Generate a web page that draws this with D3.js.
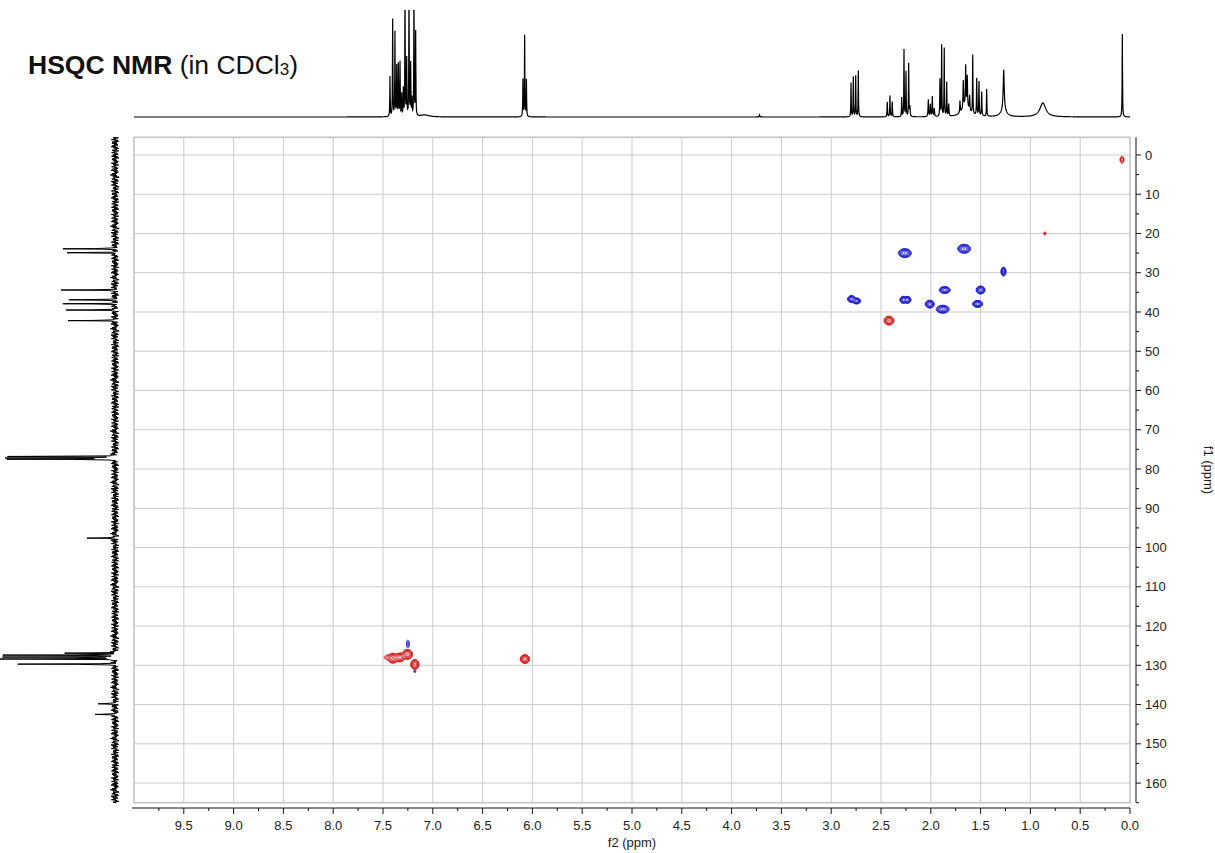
<!DOCTYPE html>
<html>
<head>
<meta charset="utf-8">
<script src="https://cdn.jsdelivr.net/npm/d3@7"></script>
<style>
  html, body { margin: 0; padding: 0; background: #fff; }
  svg { display: block; font-family: "Liberation Sans", Arial, Helvetica, sans-serif; }
</style>
</head>
<body>
<svg id="chart" width="1215" height="853"></svg>
<script>
// ---- 1H projection (f2): peak shift (ppm), height, half-width (ppm)
const protonShift = [7.430, 7.403, 7.380, 7.362, 7.346, 7.329, 7.312, 7.296, 7.279, 7.262, 7.239, 7.222, 7.209, 7.189, 7.172, 7.080,
  6.095, 6.078, 6.060, 3.720,
  2.801, 2.778, 2.754, 2.728,
  2.437, 2.410, 2.387,
  2.292, 2.269, 2.249, 2.222, 2.210,
  2.025, 2.005, 1.985, 1.965,
  1.908, 1.891, 1.865, 1.840, 1.820,
  1.707, 1.674, 1.650, 1.634, 1.610, 1.650,
  1.579, 1.539, 1.516, 1.489, 1.439,
  1.268, 1.268, 0.875, 0.077];
const protonHeight = [40, 97, 84, 50, 52, 54, 22, 27, 125, 57, 125, 52, 17, 125, 84, 2,
  37, 81, 37, 2,
  34, 40, 41, 46,
  15, 21, 15,
  19, 67, 45, 53, 10,
  17, 12, 20, 8,
  37, 71, 68, 34, 12,
  12, 27, 39, 30, 15, 12,
  59, 37, 34, 24, 27,
  40, 7, 14, 83];
const protonWidth = [0.0022, 0.0022, 0.0022, 0.0022, 0.0022, 0.0022, 0.0022, 0.0022, 0.0022, 0.0022, 0.0022, 0.0022, 0.0022, 0.0022, 0.0022, 0.05,
  0.0022, 0.0022, 0.0022, 0.003,
  0.0022, 0.0022, 0.0022, 0.0022,
  0.0025, 0.0025, 0.0025,
  0.0022, 0.0022, 0.0022, 0.0022, 0.0030,
  0.0030, 0.0030, 0.0030, 0.0030,
  0.0022, 0.0022, 0.0022, 0.0022, 0.0030,
  0.0030, 0.0030, 0.0030, 0.0030, 0.0030, 0.040,
  0.0022, 0.0025, 0.0025, 0.0025, 0.0022,
  0.0060, 0.030, 0.035, 0.0022];

// ---- 13C projection (f1): peak shift (ppm), height
const carbonShift = [23.9, 24.9, 34.4, 36.9, 37.9, 39.5, 42.2, 76.8, 77.2, 77.5, 97.6,
  126.9, 127.4, 127.9, 128.4, 129.7, 139.8, 142.5];
const carbonHeight = [52, 45, 54, 46, 52, 49, 47, 106, 107, 106, 28,
  49, 111, 111, 111, 97, 17, 20];
// baseline noise of the 13C trace
const carbonNoise = [2.1, -3.4, 1.2, -0.8, 3.6, -2.9, 0.4, -3.8, 2.7, -1.5, 3.1, -2.2, 0.9, -3.0, 2.4, -0.6,
  3.8, -2.6, 1.7, -3.5, 0.2, -1.9, 2.9, -3.7, 1.4, -0.3, 3.3, -2.4, 0.7, -3.2, 2.2, -1.1,
  3.5, -2.8, 1.0, -3.9, 2.6, -0.9, 3.0, -2.0, 1.6, -3.3, 0.5, -2.7, 3.7, -1.3, 2.0, -3.6,
  1.1, -0.5, 3.4, -2.3, 0.8, -3.1, 2.5, -1.7, 3.9, -2.5, 1.3, -3.4, 0.3, -2.1, 2.8, -1.0, 4.6, -1.8, 2.3, -2.9,
  -4.1, 1.9, -0.2, 3.2, -2.6, 0.6, -3.5, 4.0, -1.4, 2.4, -3.0, 1.5, -0.7, 3.6, -2.2, 0.1, -3.8, 2.0, -1.2];

// ---- HSQC cross peaks: 1H shift, 13C shift, signed amplitude (+ CH/CH3, - CH2), widths (ppm)
const crossH = [2.260, 1.665, 1.270, 1.860, 1.500, 2.795, 2.745, 2.275, 2.235, 2.010, 1.880, 1.530,
  2.420, 0.855, 0.080,
  7.440, 7.400, 7.330, 7.255, 7.180, 6.075, 7.250, 7.180];
const crossC = [25.0, 23.9, 29.7, 34.4, 34.4, 36.7, 37.2, 36.9, 36.9, 38.0, 39.3, 37.95,
  42.2, 20.0, 1.2,
  128.0, 128.2, 128.0, 127.2, 129.8, 128.4, 124.6, 131.5];
const crossAmp = [-30, -30, -20, -25, -25, -25, -25, -25, -25, -25, -30, -25,
  30, 3, 6,
  4, 30, 25, 30, 30, 30, -3, -2.5];
const crossWidthH = [0.025, 0.025, 0.0103, 0.0218, 0.0178, 0.016, 0.016, 0.014, 0.014, 0.0178, 0.025, 0.020,
  0.019, 0.008, 0.0106,
  0.030, 0.020, 0.020, 0.020, 0.016, 0.018, 0.0102, 0.0074];
const crossWidthC = [0.44, 0.44, 0.47, 0.35, 0.40, 0.35, 0.30, 0.35, 0.35, 0.40, 0.39, 0.35,
  0.44, 0.26, 0.47,
  0.38, 0.49, 0.45, 0.49, 0.49, 0.44, 0.69, 0.28];

// ---- axis ticks
const f2Ticks = [9.5, 9.0, 8.5, 8.0, 7.5, 7.0, 6.5, 6.0, 5.5, 5.0, 4.5, 4.0, 3.5, 3.0, 2.5, 2.0, 1.5, 1.0, 0.5, 0.0];
const f2Minor = [9.75, 9.25, 8.75, 8.25, 7.75, 7.25, 6.75, 6.25, 5.75, 5.25, 4.75, 4.25, 3.75, 3.25, 2.75, 2.25, 1.75, 1.25, 0.75, 0.25];
const f1Ticks = [0, 10, 20, 30, 40, 50, 60, 70, 80, 90, 100, 110, 120, 130, 140, 150, 160];
const f1Minor = [5, 15, 25, 35, 45, 55, 65, 75, 85, 95, 105, 115, 125, 135, 145, 155, 165];

// ---------------------------------------------------------------
const svg = d3.select("#chart");
const plot = { left: 134, right: 1130, top: 137.3, bottom: 802.7 };
const x = d3.scaleLinear().domain([10, 0]).range([plot.left, plot.right]);
const y = d3.scaleLinear().domain([-4.5, 165]).range([plot.top, plot.bottom]);

// grid
const grid = svg.append("g").attr("stroke", "#cacaca").attr("stroke-width", 1);
grid.selectAll("line.v").data(f2Ticks.filter(t => t > 0)).join("line")
  .attr("x1", d => x(d)).attr("x2", d => x(d))
  .attr("y1", plot.top).attr("y2", plot.bottom);
grid.selectAll("line.h").data(f1Ticks).join("line")
  .attr("x1", plot.left).attr("x2", plot.right)
  .attr("y1", d => y(d)).attr("y2", d => y(d));
svg.append("rect")
  .attr("x", plot.left).attr("y", plot.top)
  .attr("width", plot.right - plot.left).attr("height", plot.bottom - plot.top)
  .attr("fill", "none").attr("stroke", "#c4c4c4").attr("stroke-width", 1.6);

// ---- 1H projection on top
const yTop = d3.scaleLinear().domain([0, 100]).range([117, 17]);
const lor = (p, c, h, w) => h * w * w / ((p - c) * (p - c) + w * w);
const hSamples = d3.range(0, 4001).map(i => 10 - i * 0.0025).concat(protonShift).sort((a, b) => b - a);
const hTrace = hSamples.map(p => {
  let s = 0;
  for (let i = 0; i < protonShift.length; i++) s += lor(p, protonShift[i], protonHeight[i], protonWidth[i]);
  return [p, s];
});
svg.append("clipPath").attr("id", "topClip")
  .append("rect").attr("x", 0).attr("y", 10).attr("width", 1215).attr("height", 120);
svg.append("path")
  .attr("clip-path", "url(#topClip)")
  .attr("d", d3.line().x(d => x(d[0])).y(d => yTop(d[1]))(hTrace))
  .attr("fill", "none").attr("stroke", "#000").attr("stroke-width", 1.2);

// ---- 13C projection on the left
const xLeft = d3.scaleLinear().domain([0, 100]).range([115, 15]);
const cBase = d3.range(0, 1131).map(i => -4.5 + i * 0.15);
const cSamples = cBase.map((c, i) => ({ c, n: carbonNoise[i % carbonNoise.length] }))
  .concat(carbonShift.map(c => ({ c, n: 0 })))
  .sort((a, b) => a.c - b.c);
const cTrace = cSamples.map(d => {
  let s = d.n;
  for (let i = 0; i < carbonShift.length; i++) s += lor(d.c, carbonShift[i], carbonHeight[i], 0.04);
  return [d.c, s];
});
svg.append("path")
  .attr("d", d3.line().x(d => xLeft(d[1])).y(d => y(d[0]))(cTrace))
  .attr("fill", "none").attr("stroke", "#000").attr("stroke-width", 1);

// ---- HSQC contours
const pxH = Math.abs(x(1) - x(0)), pxC = Math.abs(y(1) - y(0));
const peaks = crossH.map((h, i) => ({
  px: x(h), py: y(crossC[i]), a: crossAmp[i],
  sx: crossWidthH[i] * pxH, sy: crossWidthC[i] * pxC
}));
let boxes = peaks.map(p => ({
  x0: p.px - 4.5 * p.sx - 2, x1: p.px + 4.5 * p.sx + 2,
  y0: p.py - 4.5 * p.sy - 2, y1: p.py + 4.5 * p.sy + 2
}));
// merge overlapping regions so each contour field is computed once
let merged = true;
while (merged) {
  merged = false;
  outer: for (let i = 0; i < boxes.length; i++) {
    for (let j = i + 1; j < boxes.length; j++) {
      const a = boxes[i], b = boxes[j];
      if (a.x0 < b.x1 && b.x0 < a.x1 && a.y0 < b.y1 && b.y0 < a.y1) {
        boxes[i] = { x0: Math.min(a.x0, b.x0), x1: Math.max(a.x1, b.x1), y0: Math.min(a.y0, b.y0), y1: Math.max(a.y1, b.y1) };
        boxes.splice(j, 1);
        merged = true;
        break outer;
      }
    }
  }
}
const RES = 4;
const levels = d3.range(0, 9).map(k => Math.pow(1.62, k));
const cg = svg.append("g").attr("fill", "none").attr("stroke-width", 0.85);
boxes.forEach(b => {
  const w = Math.ceil((b.x1 - b.x0) * RES), h = Math.ceil((b.y1 - b.y0) * RES);
  const vals = new Float64Array(w * h);
  peaks.forEach(p => {
    const i0 = Math.max(0, Math.floor((p.px - 5 * p.sx - b.x0) * RES));
    const i1 = Math.min(w - 1, Math.ceil((p.px + 5 * p.sx - b.x0) * RES));
    const j0 = Math.max(0, Math.floor((p.py - 5 * p.sy - b.y0) * RES));
    const j1 = Math.min(h - 1, Math.ceil((p.py + 5 * p.sy - b.y0) * RES));
    for (let j = j0; j <= j1; j++) {
      const Y = b.y0 + (j + 0.5) / RES;
      const ey = ((Y - p.py) / p.sy) ** 2;
      for (let i = i0; i <= i1; i++) {
        const X = b.x0 + (i + 0.5) / RES;
        vals[j * w + i] += p.a * Math.exp(-0.5 * (((X - p.px) / p.sx) ** 2 + ey));
      }
    }
  });
  const neg = vals.map(v => -v);
  const path = d3.geoPath(d3.geoTransform({
    point(px, py) { this.stream.point(b.x0 + px / RES, b.y0 + py / RES); }
  }));
  const gen = d3.contours().size([w, h]).thresholds(levels);
  cg.append("g").attr("stroke", "#1414c8").selectAll("path")
    .data(gen(neg).filter(c => c.coordinates.length)).join("path").attr("d", path);
  cg.append("g").attr("stroke", "#cc1616").selectAll("path")
    .data(gen(vals).filter(c => c.coordinates.length)).join("path").attr("d", path);
});

// ---- bottom axis (f2)
const axisY = 808;
const bx = svg.append("g").attr("stroke", "#111");
bx.append("line").attr("x1", plot.left - 2).attr("x2", plot.right).attr("y1", axisY).attr("y2", axisY);
bx.selectAll("line.maj").data(f2Ticks).join("line")
  .attr("x1", d => x(d)).attr("x2", d => x(d)).attr("y1", axisY).attr("y2", axisY + 6);
bx.selectAll("line.min").data(f2Minor).join("line")
  .attr("x1", d => x(d)).attr("x2", d => x(d)).attr("y1", axisY).attr("y2", axisY + 3);
svg.append("g").selectAll("text").data(f2Ticks).join("text")
  .attr("x", d => x(d)).attr("y", 830)
  .attr("text-anchor", "middle").attr("font-size", 13).attr("fill", "#222")
  .text(d => d.toFixed(1));
svg.append("text").attr("x", 632).attr("y", 847).attr("text-anchor", "middle")
  .attr("font-size", 13).attr("fill", "#222").text("f2 (ppm)");

// ---- right axis (f1)
const axisX = 1136;
const ry = svg.append("g").attr("stroke", "#111");
ry.append("line").attr("x1", axisX).attr("x2", axisX).attr("y1", plot.top).attr("y2", plot.bottom);
ry.selectAll("line.maj").data(f1Ticks).join("line")
  .attr("x1", axisX).attr("x2", axisX + 5).attr("y1", d => y(d)).attr("y2", d => y(d));
ry.selectAll("line.min").data(f1Minor).join("line")
  .attr("x1", axisX).attr("x2", axisX + 3).attr("y1", d => y(d)).attr("y2", d => y(d));
svg.append("g").selectAll("text").data(f1Ticks).join("text")
  .attr("x", 1145).attr("y", d => y(d)).attr("dy", "0.35em")
  .attr("font-size", 13).attr("fill", "#222")
  .text(d => d);
svg.append("text").attr("transform", "translate(1204,470) rotate(90)")
  .attr("text-anchor", "middle").attr("font-size", 13).attr("fill", "#222").text("f1 (ppm)");

// ---- title
const title = svg.append("text").attr("x", 28).attr("y", 73.5).attr("font-size", 26.5).attr("fill", "#111");
title.append("tspan").attr("font-weight", "bold").text("HSQC NMR");
title.append("tspan").text(" (in CDCl");
title.append("tspan").attr("font-size", 17).attr("dy", 1).text("3");
title.append("tspan").attr("dy", -1).text(")");
</script>
</body>
</html>
